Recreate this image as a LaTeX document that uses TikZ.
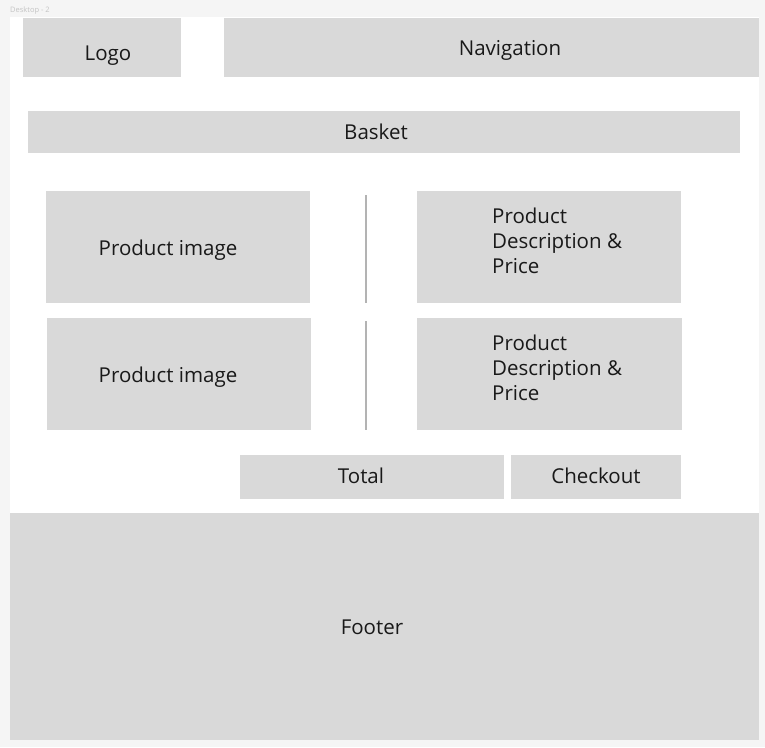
\documentclass[tikz,border=0pt]{standalone}
\usepackage{fontspec}
\setmainfont{Open Sans}
\usetikzlibrary{calc}
\definecolor{pagebg}{HTML}{F5F5F5}
\definecolor{boxgray}{HTML}{D9D9D9}
\definecolor{rulegray}{HTML}{B3B3B3}
\definecolor{titlegray}{HTML}{C4C4C4}
\tikzstyle{block} = [rectangle, fill=boxgray, inner sep=0pt, anchor=north west]
\tikzstyle{txt} = [inner sep=0pt, text height=15pt, text depth=0pt, font=\fontsize{20.5}{25}\selectfont, text=black!90]
\tikzstyle{divider} = [draw=rulegray, line width=1.2pt]
\newcommand{\rowgap}{127}

\begin{document}
\begin{tikzpicture}[x=1pt, y=-1pt]

  %\draw[help lines] (0,0) grid (765,747);
  \useasboundingbox (0,0) rectangle (765,747);
  \fill[pagebg] (0,0) rectangle (765,747);

  % frame
  \node (title) [anchor=west, inner sep=0pt, font=\fontsize{7.5}{8}\selectfont, text=titlegray] at (10,11) {Desktop - 2};
  \node (frame) [block, fill=white, minimum width=749pt, minimum height=723pt] at (10,17) {};

  % header
  \node (logo) [block, minimum width=158pt, minimum height=59pt] at (23,18) {};
  \node (nav)  [block, minimum width=535pt, minimum height=59pt] at (224,18) {};
  \node (logotxt) [txt] at (108,53) {Logo};
  \node (navtxt)  [txt] at (510,48) {Navigation};

  % basket bar
  \node (basket) [block, minimum width=712pt, minimum height=42pt] at (28,111) {};
  \node (baskettxt) [txt] at (376,132) {Basket};

  % first product row
  \node (img1)  [block, minimum width=264pt, minimum height=112pt] at (46,191) {};
  \node (desc1) [block, minimum width=264pt, minimum height=112pt] at (417,191) {};
  \coordinate (sep1top) at (366,195);
  \coordinate (sep1bot) at (366,303);
  \draw [divider] (sep1top) -- (sep1bot);
  \node (img1txt)  [txt] at (168,248) {Product image};
  \node (desc1txt) [txt, anchor=west, align=left] at (492,265.5) {Product\\Description \&\\Price};

  % second product row, one row lower
  \node (img2)  [block, minimum width=264pt, minimum height=112pt] at ($(img1.north west)+(1,\rowgap)$) {};
  \node (desc2) [block, minimum width=265pt, minimum height=112pt] at ($(desc1.north west)+(0,\rowgap)$) {};
  \coordinate (sep2top) at (366,321);
  \coordinate (sep2bot) at (366,430);
  \draw [divider] (sep2top) -- (sep2bot);
  \node (img2txt)  [txt] at ($(img1txt)+(0,\rowgap)$) {Product image};
  \node (desc2txt) [txt, anchor=west, align=left] at ($(desc1txt.west)+(0,\rowgap)$) {Product\\Description \&\\Price};

  % total - checkout
  \node (total)    [block, minimum width=264pt, minimum height=44pt] at (240,455) {};
  \node (checkout) [block, minimum width=170pt, minimum height=44pt] at (511,455) {};
  \node (totaltxt)    [txt] at (361,476) {Total};
  \node (checkouttxt) [txt] at (596,476) {Checkout};

  % footer
  \node (footer) [block, minimum width=749pt, minimum height=227pt] at (10,513) {};
  \node (footertxt) [txt] at (372,627) {Footer};

\end{tikzpicture}
\end{document}
